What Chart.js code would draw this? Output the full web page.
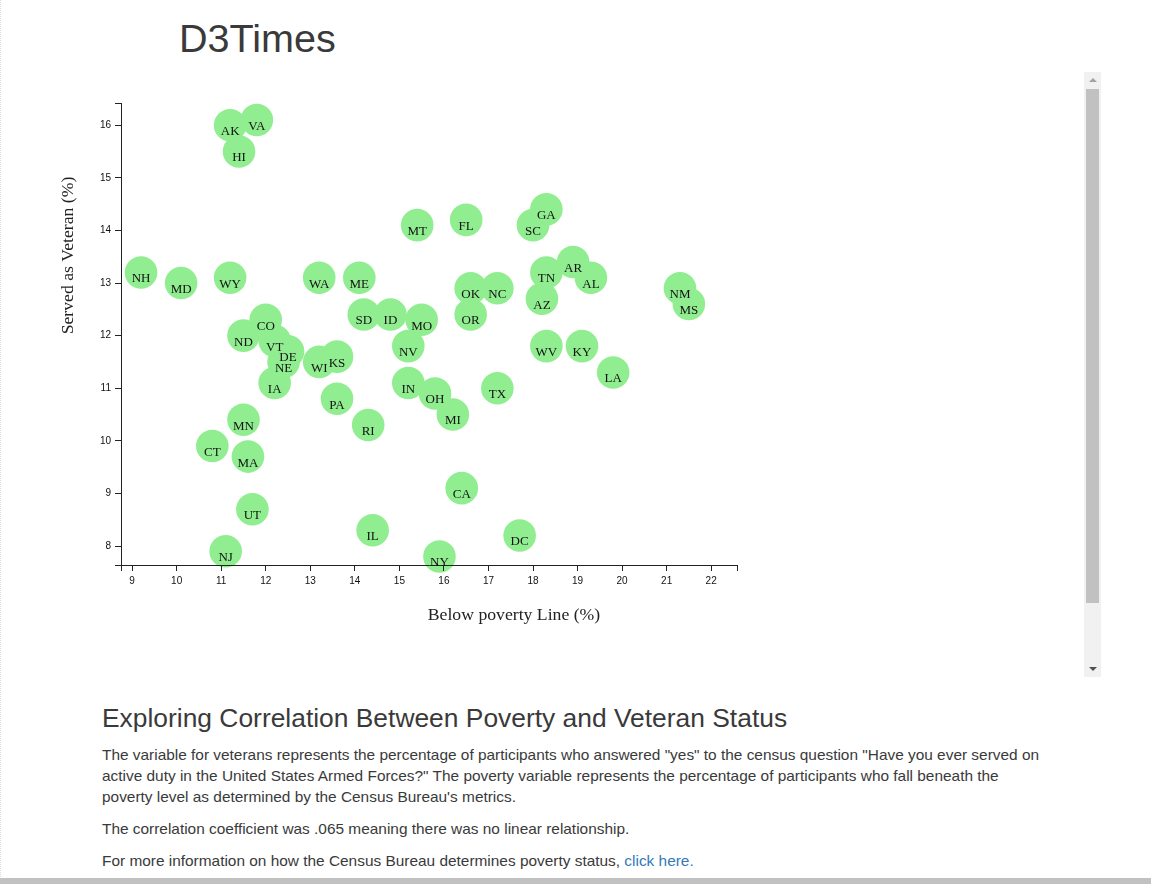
<!DOCTYPE html>
<html><head><meta charset="utf-8"><title>D3Times</title>
<script src="https://cdn.jsdelivr.net/npm/chart.js@4"></script>
<style>
html,body{margin:0;padding:0;background:#fff;overflow:hidden;width:1151px;height:884px;font-family:"Liberation Sans",Arial,sans-serif;color:#3a3a3a}
body{position:relative}
.abs{position:absolute;white-space:nowrap}
h1,h3,p{margin:0;font-weight:400}
a{color:#337ab7;text-decoration:none}
canvas{position:absolute;left:0;top:72px}
.edge{position:absolute;left:0;top:0;bottom:7px;width:1px;border-left:1px dotted #ddd}
.hbar{position:absolute;left:0;right:0;top:878px;height:6px;background:#c1c1c1}
.track{position:absolute;left:1084px;top:72px;width:17px;height:605px;background:#f1f1f1}
.thumb{position:absolute;left:2px;top:17px;width:13px;height:514px;background:#c1c1c1}
.up{position:absolute;left:4.5px;top:6px;width:0;height:0;border-left:4px solid transparent;border-right:4px solid transparent;border-bottom:4px solid #a3a3a3}
.down{position:absolute;left:4.5px;bottom:6px;width:0;height:0;border-left:4px solid transparent;border-right:4px solid transparent;border-top:4px solid #505050}
</style></head>
<body>
<div class="edge"></div>
<h1 class="abs" style="left:179px;top:15px;font-size:39.6px;line-height:47px">D3Times</h1>
<canvas id="c" width="1080" height="600"></canvas>
<div class="track"><div class="up"></div><div class="thumb"></div><div class="down"></div></div>
<h3 class="abs" style="left:102px;top:703px;font-size:26.4px;line-height:30px">Exploring Correlation Between Poverty and Veteran Status</h3>
<p class="abs" style="left:102px;top:744px;font-size:15.42px;line-height:21px">The variable for veterans represents the percentage of participants who answered "yes" to the census question "Have you ever served on<br>active duty in the United States Armed Forces?" The poverty variable represents the percentage of participants who fall beneath the<br>poverty level as determined by the Census Bureau's metrics.</p>
<p class="abs" style="left:102px;top:818px;font-size:15.42px;line-height:21px">The correlation coefficient was .065 meaning there was no linear relationship.</p>
<p class="abs" style="left:102px;top:850px;font-size:15.42px;line-height:21px">For more information on how the Census Bureau determines poverty status, <a href="#">click here.</a></p>
<div class="hbar"></div>
<script>
const states = ["AK","VA","HI","GA","FL","MT","SC","AR","TN","AL","NH","MD","WY","WA","ME","OK","NC","NM","MS","AZ","SD","ID","MO","OR","CO","ND","VT","DE","NE","WI","KS","NV","WV","KY","LA","IA","IN","OH","TX","PA","MI","MN","RI","CT","MA","CA","UT","IL","DC","NJ","NY"];
const poverty = [11.2,11.8,11.4,18.3,16.5,15.4,18.0,18.9,18.3,19.3,9.2,10.1,11.2,13.2,14.1,16.6,17.2,21.3,21.5,18.2,14.2,14.8,15.5,16.6,12.0,11.5,12.2,12.5,12.4,13.2,13.6,15.2,18.3,19.1,19.8,12.2,15.2,15.8,17.2,13.6,16.2,11.5,14.3,10.8,11.6,16.4,11.7,14.4,17.7,11.1,15.9];
const veteran = [16.0,16.1,15.5,14.4,14.2,14.1,14.1,13.4,13.2,13.1,13.2,13.0,13.1,13.1,13.1,12.9,12.9,12.9,12.6,12.7,12.4,12.4,12.3,12.4,12.3,12.0,11.9,11.7,11.5,11.5,11.6,11.8,11.8,11.8,11.3,11.1,11.1,10.9,11.0,10.8,10.5,10.4,10.3,9.9,9.7,9.1,8.7,8.3,8.2,7.9,7.8];
const xTicks = [9,10,11,12,13,14,15,16,17,18,19,20,21,22];
const yTicks = [8,9,10,11,12,13,14,15,16];
const xRange = [8.75,22.58];
const yRange = [7.639,16.422];
const xTitle = "Below poverty Line (%)";
const yTitle = "Served as Veteran (%)";

const endTicks = (list, range) => [range[0], ...list, range[1]].map(value => ({value}));
const labelIntegers = v => Number.isInteger(v) ? String(v) : '';

const statePlugin = {
  id: 'stateLabels',
  afterDraw(chart) {
    const ctx = chart.ctx, pts = chart.getDatasetMeta(0).data;
    ctx.save();
    ctx.fillStyle = '#111';
    ctx.font = '13px "Liberation Serif", serif';
    ctx.textAlign = 'center';
    ctx.textBaseline = 'middle';
    pts.forEach((p, i) => ctx.fillText(states[i], p.x, p.y + 6.5));
    ctx.fillStyle = '#222';
    ctx.font = '17.7px "Liberation Serif", serif';
    ctx.fillText(xTitle, 514, 543);
    ctx.translate(68, 183.5);
    ctx.rotate(-Math.PI / 2);
    ctx.fillText(yTitle, 0, 0);
    ctx.restore();
  }
};

new Chart(document.getElementById('c'), {
  type: 'scatter',
  data: { datasets: [{
    data: poverty.map((x, i) => ({x, y: veteran[i]})),
    backgroundColor: '#90ee90', borderWidth: 0, pointRadius: 16.3, pointHoverRadius: 16.3, clip: false
  }]},
  plugins: [statePlugin],
  options: {
    responsive: false, animation: false, devicePixelRatio: 1,
    events: [],
    layout: { autoPadding: false, padding: {left: 0, top: 31, right: 343, bottom: 75} },
    plugins: { legend: {display: false}, tooltip: {enabled: false}, title: {display: false} },
    scales: {
      x: {
        type: 'linear', min: xRange[0], max: xRange[1],
        afterBuildTicks: s => { s.ticks = endTicks(xTicks, xRange); },
        afterFit: s => { s.height = 32; },
        grid: {drawOnChartArea: false, tickLength: 6, tickColor: '#222', tickWidth: 1, z: 1},
        border: {color: '#222', width: 1, z: 1},
        ticks: {autoSkip: false, maxRotation: 0, padding: 4, color: '#111', font: {family: '"Liberation Sans"', size: 10}, callback: labelIntegers}
      },
      y: {
        type: 'linear', min: yRange[0], max: yRange[1],
        afterBuildTicks: s => { s.ticks = endTicks(yTicks, yRange); },
        afterFit: s => { s.width = 121; },
        grid: {drawOnChartArea: false, tickLength: 6, tickColor: '#222', tickWidth: 1, z: 1},
        border: {color: '#222', width: 1, z: 1},
        ticks: {autoSkip: false, padding: 4, color: '#111', font: {family: '"Liberation Sans"', size: 10}, callback: labelIntegers}
      }
    }
  }
});
</script>
</body></html>
